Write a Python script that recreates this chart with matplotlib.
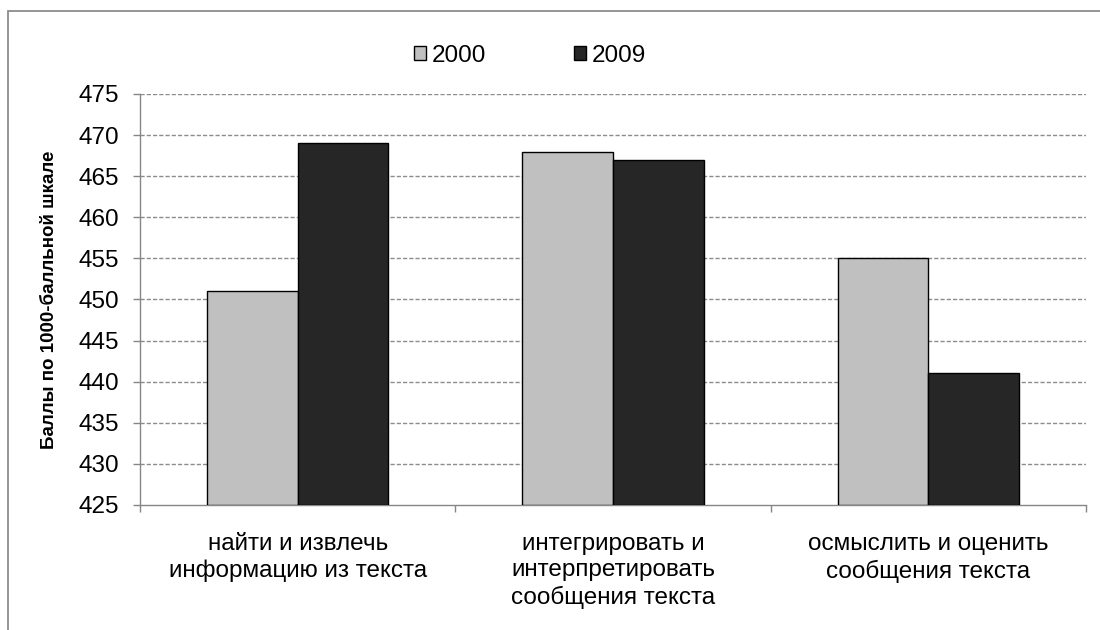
import matplotlib
matplotlib.use("Agg")
import matplotlib.pyplot as plt
from matplotlib.patches import Patch, Rectangle
import numpy as np

plt.rcParams['font.family'] = ['Liberation Sans', 'DejaVu Sans']

# данные
categories = ["найти и извлечь\nинформацию из текста",
              "интегрировать и\nинтерпретировать\nсообщения текста",
              "осмыслить и оценить\nсообщения текста"]
years = ["2000", "2009"]
scores_2000 = [451, 468, 455]
scores_2009 = [469, 467, 441]
y_ticks = [425, 430, 435, 440, 445, 450, 455, 460, 465, 470, 475]

fig = plt.figure(figsize=(11, 6.3), dpi=100)
ax = fig.add_axes([140 / 1100, 1 - 505 / 630, (1086 - 140) / 1100, (505 - 94) / 630])

x = np.arange(len(categories))
w = 0.2876
ax.bar(x - w / 2, np.array(scores_2000) - 425, w, bottom=425,
       color='#c0c0c0', edgecolor='black', linewidth=1, zorder=3)
ax.bar(x + w / 2, np.array(scores_2009) - 425, w, bottom=425,
       color='#262626', edgecolor='black', linewidth=1, zorder=3)

ax.set_xlim(-0.5, len(categories) - 0.5)
ax.set_ylim(y_ticks[0], y_ticks[-1])
ax.set_yticks(y_ticks)
ax.tick_params(axis='y', labelsize=17.5, length=5, width=1, color='#868686', pad=10)

ax.set_xticks(x)
ax.set_xticklabels(categories, fontsize=17.5, linespacing=1.27)
ax.tick_params(axis='x', length=0, pad=20)
ax.set_xticks(np.arange(-0.5, len(categories)), minor=True)
ax.tick_params(axis='x', which='minor', length=5, width=1, color='#868686')

# сетка
for v in y_ticks[1:]:
    ax.axhline(v, color='#8c8c8c', linewidth=1, dashes=(3, 1.5), zorder=1)

for s in ['top', 'right']:
    ax.spines[s].set_visible(False)
for s in ['left', 'bottom']:
    ax.spines[s].set_color('#868686')
    ax.spines[s].set_linewidth(1)
ax.spines['left'].set_zorder(4)

ax.set_ylabel("Баллы по 1000-балльной шкале", fontsize=13.5, fontweight='bold')
ax.yaxis.set_label_coords(-82 / 946, 0.5)

handles = [Patch(facecolor='#c0c0c0', edgecolor='black', linewidth=1),
           Patch(facecolor='#262626', edgecolor='black', linewidth=1)]
fig.legend(handles, years, loc='center', bbox_to_anchor=(530 / 1100, 1 - 55.5 / 630),
           ncol=2, frameon=False, fontsize=17.5, handlelength=0.5, handleheight=0.5,
           handletextpad=0.25, columnspacing=3.6)

# рамка
fig.patches.append(Rectangle((8 / 1100, -0.1), 1.2, 1.1 - 11 / 630, transform=fig.transFigure,
                             fill=False, edgecolor='#8c8c8c', linewidth=1.3))

fig.savefig("out.png", dpi=100)
